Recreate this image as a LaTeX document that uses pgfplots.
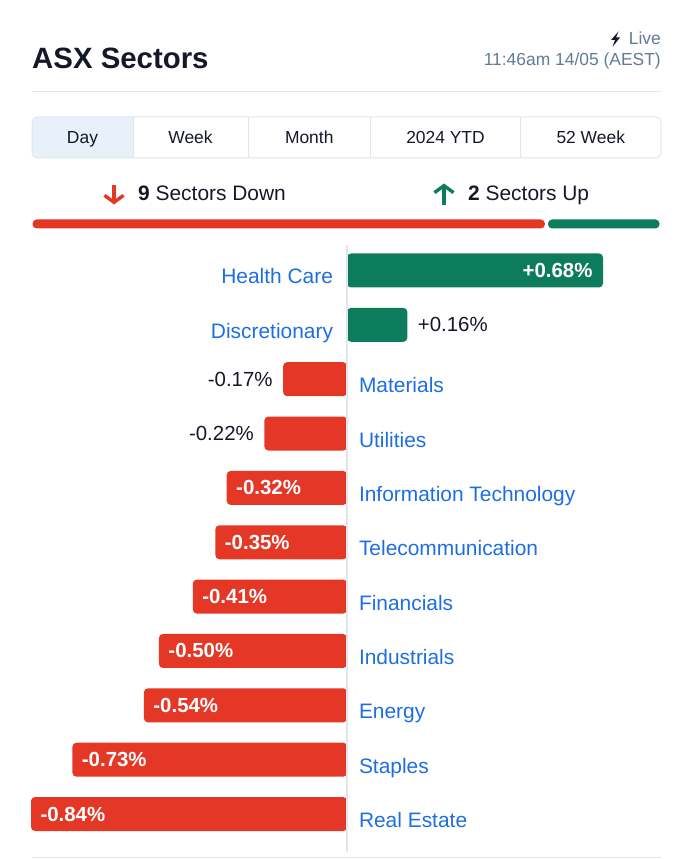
\documentclass[border=0pt]{standalone}
\usepackage{pgfplots}
\pgfplotsset{compat=1.18}
\usepackage{fontspec}
\setmainfont{Liberation Sans}
\usetikzlibrary{arrows.meta}
\definecolor{gsgreen}{RGB}{12,124,92}
\definecolor{gsred}{RGB}{228,55,38}
\definecolor{lblue}{RGB}{29,110,226}
\definecolor{ink}{RGB}{20,24,40}
\definecolor{slate}{RGB}{96,123,150}
\definecolor{rulec}{RGB}{222,230,238}
\definecolor{tabfill}{RGB}{232,240,249}
\definecolor{zline}{RGB}{226,230,235}
\newcommand\posl[1]{\makebox[0pt][r]{#1\hspace{14bp}}}
\newcommand\negl[1]{\makebox[0pt][l]{\hspace{12bp}#1}}
\newcommand\fs[1]{\fontsize{#1}{#1}\selectfont}
\begin{document}
\begin{tikzpicture}[x=1bp,y=1bp]
\path (0,0) rectangle (700,859);
% header
\node[anchor=base west, inner sep=0, font=\fs{29.5}\bfseries, text=ink] at (32,790) {ASX Sectors};
\node[anchor=base east, inner sep=0, font=\fs{17.5}, text=slate] at (661,814) {Live};
\fill[ink] (618.5,827.5) -- (611,819) -- (615,819) -- (612.5,812) -- (620,821.5) -- (616,821.5) -- cycle;
\node[anchor=base east, inner sep=0, font=\fs{17.5}, text=slate] at (661,793) {11:46am 14/05 (AEST)};
\draw[rulec, line width=1bp] (32,767) -- (661,767);
% tabs
\begin{scope}
\clip[rounded corners=5bp] (32,701) rectangle (661,742);
\fill[tabfill] (32,701) rectangle (133,742);
\end{scope}
\draw[rulec, line width=1bp, rounded corners=5bp] (32,701) rectangle (661,742);
\foreach \x in {133,248,370.5,520.5} \draw[rulec, line width=1bp] (\x,701) -- (\x,742);
\foreach \x/\t in {82.5/Day,190.5/Week,309.25/Month,445.5/2024 YTD,590.75/52 Week}
  \node[anchor=base, inner sep=0, font=\fs{17.5}, text=ink] at (\x,715) {\t};
% summary
\draw[gsred, line width=3.4bp, -{Straight Barb[length=7bp,width=19bp]}] (114,673.5) -- (114,654.5);
\draw[gsgreen, line width=3.4bp, -{Straight Barb[length=7bp,width=19bp]}] (444,654) -- (444,675.5);
\node[anchor=base west, inner sep=0, font=\fs{21}, text=ink] at (138,658.5) {{\bfseries 9} Sectors Down};
\node[anchor=base west, inner sep=0, font=\fs{21}, text=ink] at (468,658.5) {{\bfseries 2} Sectors Up};
\begin{axis}[at={(31bp,629bp)}, anchor=south west, scale only axis, width=630bp, height=12bp,
  xmin=0, xmax=11, ymin=-0.5, ymax=0.5, xbar stacked, bar width=12bp, hide axis]
\addplot[fill=gsred, draw=white, line width=3bp, rounded corners=5bp] coordinates {(9,0)};
\addplot[fill=gsgreen, draw=white, line width=3bp, rounded corners=5bp] coordinates {(2,0)};
\end{axis}
% main chart
\begin{axis}[at={(31bp,17.8bp)}, anchor=south west, scale only axis, width=572bp, height=597.9bp,
  xmin=-0.84, xmax=0.68, ymin=-0.5, ymax=10.5, y dir=reverse, enlargelimits=false,
  xbar, bar width=34bp, axis line style={draw=none}, major tick length=0pt, xtick=\empty,
  ytick={0,...,10},
  yticklabels={\posl{Health Care},\posl{Discretionary},\negl{Materials},\negl{Utilities},\negl{Information Technology},\negl{Telecommunication},\negl{Financials},\negl{Industrials},\negl{Energy},\negl{Staples},\negl{Real Estate}},
  yticklabel style={anchor=base, inner sep=0pt, xshift=316bp, yshift=-13.5bp, font=\fs{21}, text=lblue},
  point meta=explicit symbolic, nodes near coords, clip=false]
\addplot[fill=gsgreen, draw=none, rounded corners=4bp, bar shift=0pt,
  nodes near coords style={anchor=east, xshift=-7bp, text=white, font=\fs{20.5}\bfseries}]
  coordinates {(0.68,0) [+0.68\%]};
\addplot[fill=gsgreen, draw=none, rounded corners=4bp, bar shift=0pt,
  nodes near coords style={anchor=west, xshift=7bp, text=ink, font=\fs{20.5}}]
  coordinates {(0.16,1) [+0.16\%]};
\addplot[fill=gsred, draw=none, rounded corners=4bp, bar shift=0pt,
  nodes near coords style={anchor=east, xshift=-7bp, text=ink, font=\fs{20.5}}]
  coordinates {(-0.17,2) [-0.17\%] (-0.22,3) [-0.22\%]};
\addplot[fill=gsred, draw=none, rounded corners=4bp, bar shift=0pt,
  nodes near coords style={anchor=west, xshift=6bp, text=white, font=\fs{20.5}\bfseries}]
  coordinates {(-0.32,4) [-0.32\%] (-0.35,5) [-0.35\%] (-0.41,6) [-0.41\%] (-0.50,7) [-0.50\%]
               (-0.54,8) [-0.54\%] (-0.73,9) [-0.73\%] (-0.84,10) [-0.84\%]};
\end{axis}
\draw[zline, line width=1.2bp] (347,614) -- (347,7);
\draw[rulec, line width=1.5bp] (32,1.5) -- (661,1.5);
\end{tikzpicture}
\end{document}
